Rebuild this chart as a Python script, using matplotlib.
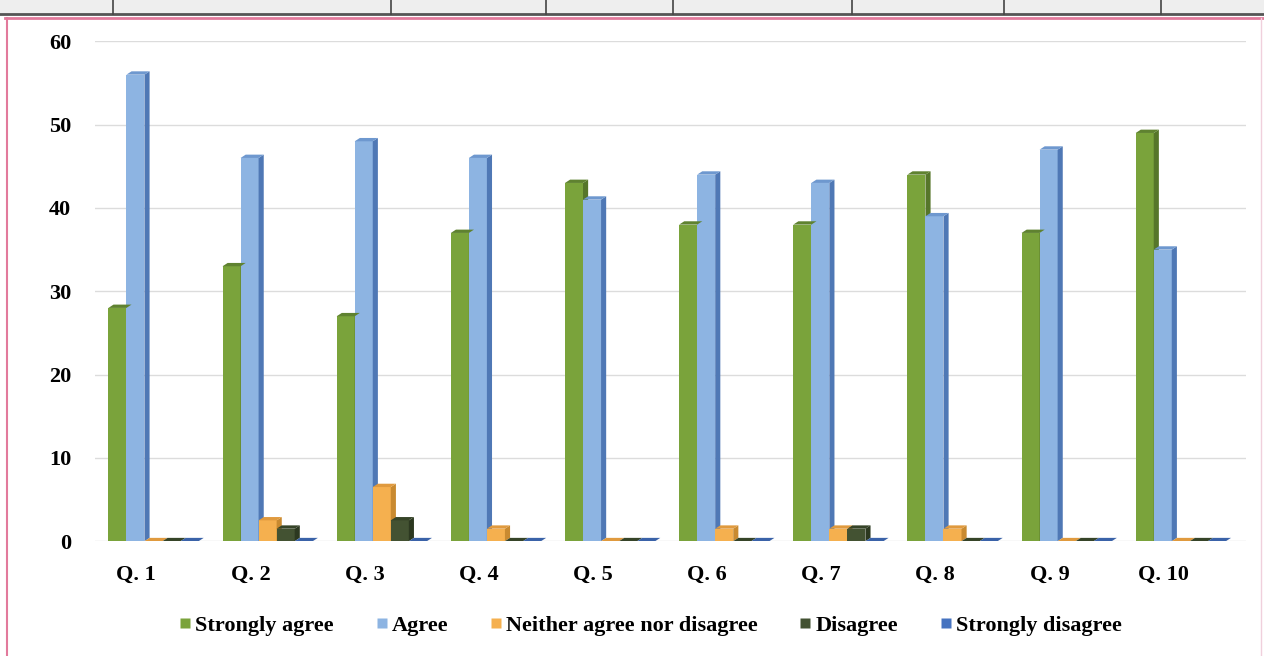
import numpy as np
import matplotlib.pyplot as plt
from matplotlib.patches import Polygon, Rectangle
from matplotlib.lines import Line2D

# survey answers per question
questions = ['Q. 1', 'Q. 2', 'Q. 3', 'Q. 4', 'Q. 5', 'Q. 6', 'Q. 7', 'Q. 8', 'Q. 9', 'Q. 10']
strongly_agree = [28, 33, 27, 37, 43, 38, 38, 44, 37, 49]
agree = [56, 46, 48, 46, 41, 44, 43, 39, 47, 35]
neither = [0, 2.5, 6.5, 1.5, 0, 1.5, 1.5, 1.5, 0, 0]
disagree = [0, 1.5, 2.5, 0, 0, 0, 1.5, 0, 0, 0]
strongly_disagree = [0, 0, 0, 0, 0, 0, 0, 0, 0, 0]

series_names = ['Strongly agree', 'Agree', 'Neither agree nor disagree', 'Disagree', 'Strongly disagree']
series = [strongly_agree, agree, neither, disagree, strongly_disagree]
front_cols = ['#7aa33b', '#8db4e2', '#f5b04f', '#435232', '#4673c0']
side_cols = ['#56762a', '#4f78b5', '#c98a30', '#2c3820', '#2f5290']
top_cols = ['#5f8230', '#6e98cf', '#e09a3e', '#364428', '#3a62a8']

plt.rcParams['font.family'] = ['Liberation Serif', 'DejaVu Serif']

fig = plt.figure(figsize=(12.64, 6.56), dpi=100)
ax = fig.add_axes([0.075, 0.175, 0.911, 0.762])

w = 0.158
dx = 0.045
dy = 0.4
x = np.arange(len(questions))

for k, vals in enumerate(series):
    for i, v in enumerate(vals):
        left = x[i] - 2.5 * w + k * w
        ax.add_patch(Rectangle((left, 0), w, v, facecolor=front_cols[k], edgecolor='none', zorder=3))
        ax.add_patch(Polygon([(left + w, 0), (left + w + dx, dy), (left + w + dx, v + dy), (left + w, v)],
                             closed=True, facecolor=side_cols[k], edgecolor='none', zorder=3))
        ax.add_patch(Polygon([(left, v), (left + dx, v + dy), (left + w + dx, v + dy), (left + w, v)],
                             closed=True, facecolor=top_cols[k], edgecolor='none', zorder=4))

ax.set_xlim(-0.514, 9.574)
ax.set_ylim(0, 60)
ax.set_yticks(range(0, 61, 10))
ax.set_xticks(x - 0.15)
ax.set_xticklabels(questions, fontsize=16, fontweight='bold')
ax.set_yticklabels([str(t) for t in range(0, 61, 10)], fontsize=16, fontweight='bold')
ax.tick_params(length=0, pad=17)
ax.tick_params(axis='y', pad=17)
ax.grid(axis='y', color='#dcdcdc', linewidth=1.0, zorder=0)
for s in ax.spines.values():
    s.set_visible(False)

handles = [Line2D([], [], marker='s', linestyle='none', markersize=7,
                  markerfacecolor=c, markeredgecolor='none') for c in front_cols]
fig.legend(handles, series_names, loc='center', bbox_to_anchor=(0.513, 0.046), ncol=5,
           frameon=False, prop={'size': 16, 'weight': 'bold'}, handletextpad=0.0,
           columnspacing=1.7, handlelength=0.9)

# page decoration: table strip on top and pink frame
fig.add_artist(Rectangle((0, 0.978), 1, 0.022, transform=fig.transFigure,
                         facecolor='#eeeeee', edgecolor='none'))
fig.add_artist(Line2D([0, 1], [0.979, 0.979], transform=fig.transFigure, color='#555555', linewidth=2))
for xp in [113, 391, 546, 673, 852, 1004, 1161]:
    fig.add_artist(Line2D([xp / 1264, xp / 1264], [0.979, 1], transform=fig.transFigure,
                          color='#444444', linewidth=1.2))
fig.add_artist(Line2D([0.004, 1], [0.972, 0.972], transform=fig.transFigure, color='#e27a9c', linewidth=2))
fig.add_artist(Line2D([0.0055, 0.0055], [0, 0.972], transform=fig.transFigure, color='#e27a9c', linewidth=1.5))
fig.add_artist(Line2D([0.998, 0.998], [0, 0.972], transform=fig.transFigure, color='#f0d0dc', linewidth=1))

fig.savefig('out.png', dpi=100)
